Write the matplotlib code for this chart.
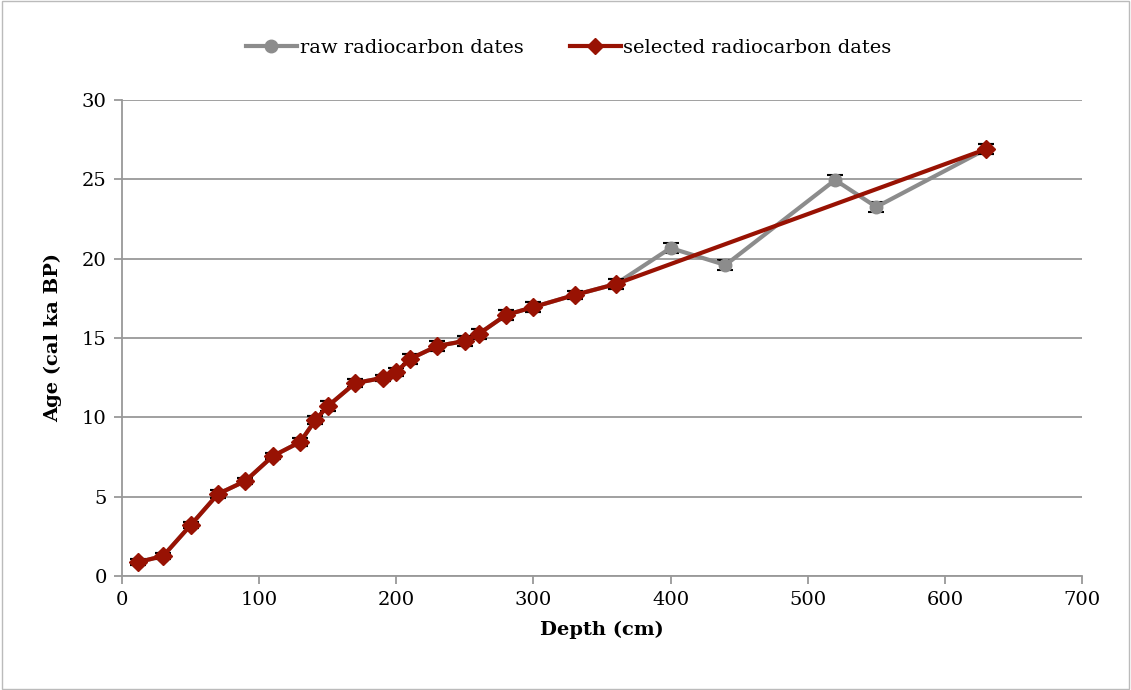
import matplotlib
matplotlib.use("Agg")
import matplotlib.pyplot as plt
from matplotlib.patches import Rectangle
from matplotlib.lines import Line2D

plt.rcParams['font.family'] = ['DejaVu Serif']

# raw radiocarbon dates (all samples)
raw_depth = [12, 30, 50, 70, 90, 110, 130, 141, 150, 170, 190, 200, 210, 230, 250,
             260, 280, 300, 330, 360, 400, 440, 520, 550, 630]
raw_age = [0.88, 1.26, 3.2, 5.17, 5.99, 7.56, 8.45, 9.83, 10.7, 12.16, 12.48, 12.86,
           13.68, 14.5, 14.81, 15.25, 16.45, 16.95, 17.71, 18.4, 20.67, 19.6, 24.96,
           23.26, 26.9]
raw_err = [0.2, 0.2, 0.2, 0.25, 0.2, 0.2, 0.25, 0.25, 0.3, 0.25, 0.2, 0.25, 0.3, 0.3,
           0.3, 0.3, 0.3, 0.3, 0.25, 0.3, 0.3, 0.3, 0.3, 0.3, 0.3]

# selected radiocarbon dates
sel_depth = [12, 30, 50, 70, 90, 110, 130, 141, 150, 170, 190, 200, 210, 230, 250,
             260, 280, 300, 330, 360, 630]
sel_age = [0.88, 1.26, 3.2, 5.17, 5.99, 7.56, 8.45, 9.83, 10.7, 12.16, 12.48, 12.86,
           13.68, 14.5, 14.81, 15.25, 16.45, 16.95, 17.71, 18.4, 26.9]
sel_err = [0.2, 0.2, 0.2, 0.25, 0.2, 0.2, 0.25, 0.25, 0.3, 0.25, 0.2, 0.25, 0.3, 0.3,
           0.3, 0.3, 0.3, 0.3, 0.25, 0.3, 0.3]

x_ticks = [0, 100, 200, 300, 400, 500, 600, 700]
y_ticks = [0, 5, 10, 15, 20, 25, 30]

GRAY = '#8c8c8c'
RED = '#981203'

fig = plt.figure(figsize=(11.31, 6.9), dpi=100)
ax = fig.add_axes([122/1131, 1 - 576/690, 960/1131, 476/690])

ax.errorbar(raw_depth, raw_age, yerr=raw_err, color=GRAY, lw=3, marker='o', ms=9,
            mfc=GRAY, mec=GRAY, ecolor='black', elinewidth=1, capsize=6, capthick=1.5,
            zorder=3)
ax.errorbar(sel_depth, sel_age, yerr=sel_err, color=RED, lw=3, marker='D', ms=9,
            mfc=RED, mec=RED, ecolor='black', elinewidth=1, capsize=6, capthick=1.5,
            zorder=4)

ax.set_xlim(0, 700)
ax.set_ylim(0, 30)
ax.set_xticks(x_ticks)
ax.set_yticks(y_ticks)
ax.yaxis.grid(True, color='#999999', lw=1.3)
ax.set_axisbelow(True)
for s in ['top', 'right']:
    ax.spines[s].set_visible(False)
for s in ['left', 'bottom']:
    ax.spines[s].set_color('#999999')
    ax.spines[s].set_linewidth(1.3)
ax.tick_params(axis='both', direction='out', length=6, width=1.3, color='#999999',
               labelsize=14, pad=5)

ax.set_xlabel('Depth (cm)', fontsize=14, fontweight='bold', labelpad=8)
ax.set_ylabel('Age (cal ka BP)', fontsize=14, fontweight='bold', labelpad=14)

handles = [Line2D([], [], color=GRAY, lw=3, marker='o', ms=9, mfc=GRAY, mec=GRAY),
           Line2D([], [], color=RED, lw=3, marker='D', ms=8, mfc=RED, mec=RED)]
labels = ['raw radiocarbon dates', 'selected radiocarbon dates']
fig.legend(handles, labels, loc='center', bbox_to_anchor=(0.503, 1 - 48/690),
           ncol=2, frameon=False, fontsize=14, handlelength=2.6,
           columnspacing=2.4, handletextpad=0.15)

fig.patches.append(Rectangle((0.002, 0.002), 0.996, 0.996, transform=fig.transFigure,
                             fill=False, ec='#bbbbbb', lw=1))

fig.savefig('out.png', dpi=100)
